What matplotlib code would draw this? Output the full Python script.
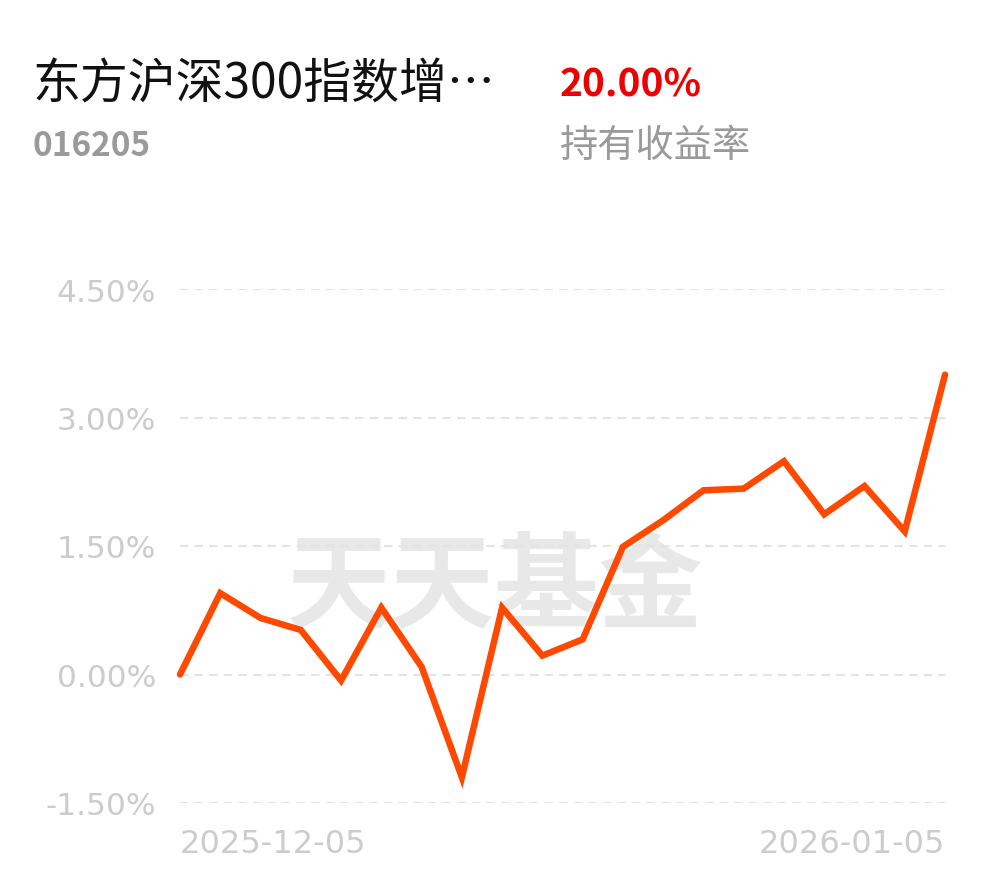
import matplotlib
matplotlib.use("Agg")
import matplotlib.pyplot as plt
from matplotlib.transforms import blended_transform_factory

plt.rcParams['font.family'] = ['Noto Sans CJK SC', 'DejaVu Sans']

fund_name = "东方沪深300指数增…"
fund_code = "016205"
hold_return = "20.00%"
hold_label = "持有收益率"
watermark = "天天基金"

# daily return (%)
returns = [0.00, 0.95, 0.66, 0.52, -0.07, 0.78, 0.09, -1.20, 0.78, 0.22,
           0.41, 1.49, 1.80, 2.15, 2.17, 2.49, 1.87, 2.20, 1.67, 3.50]
yticks = [-1.5, 0.0, 1.5, 3.0, 4.5]
ytick_labels = ["-1.50%", "0.00%", "1.50%", "3.00%", "4.50%"]
start_date = "2025-12-05"
end_date = "2026-01-05"

W, H = 990, 878
fig = plt.figure(figsize=(W / 100, H / 100), dpi=100)
fig.patch.set_facecolor("white")

# header
fig.text(33 / W, 1 - 85 / H, fund_name, fontsize=34.5, color="#111111",
         ha="left", va="center")
fig.text(33 / W, 1 - 147 / H, fund_code, fontsize=24, color="#9a9a9a",
         ha="left", va="center", fontweight="bold")
fig.text(560 / W, 1 - 85 / H, hold_return, fontsize=28, color="#ee0000",
         ha="left", va="center", fontweight="bold")
fig.text(560 / W, 1 - 147 / H, hold_label, fontsize=27.5, color="#9a9a9a",
         ha="left", va="center")

# watermark, behind the plot
fig.text(495 / W, 1 - 589 / H, watermark, fontsize=75, color="#e8e8e8",
         ha="center", va="center", fontweight="bold", zorder=0)

ax = fig.add_axes([180 / W, 1 - 804 / H, (945 - 180) / W, (804 - 290) / H])
ax.set_zorder(2)
ax.patch.set_alpha(0)
x = list(range(len(returns)))
ax.set_xlim(0, len(returns) - 1)
ax.set_ylim(-1.5, 4.5)

for yv in yticks:
    ax.axhline(yv, color="#e3e3e3", lw=1.5, ls=(0, (4, 3)), zorder=1)

ax.plot(x, returns, color="#ff4800", lw=4.7, solid_joinstyle="miter",
        solid_capstyle="round", zorder=3, clip_on=False)

ax.set_yticks(yticks)
ax.set_yticklabels(ytick_labels, family="DejaVu Sans")
ax.tick_params(axis="y", length=0, pad=17, labelsize=22.5, labelcolor="#cccccc")
ax.set_xticks([])
for s in ax.spines.values():
    s.set_visible(False)

tr = blended_transform_factory(ax.transData, fig.transFigure)
ax.text(0, 1 - 845 / H, start_date, transform=tr, ha="left", va="center",
        fontsize=23, color="#cccccc", family="DejaVu Sans")
ax.text(len(returns) - 1, 1 - 845 / H, end_date, transform=tr, ha="right",
        va="center", fontsize=23, color="#cccccc", family="DejaVu Sans")

fig.savefig("out.png", dpi=100)
